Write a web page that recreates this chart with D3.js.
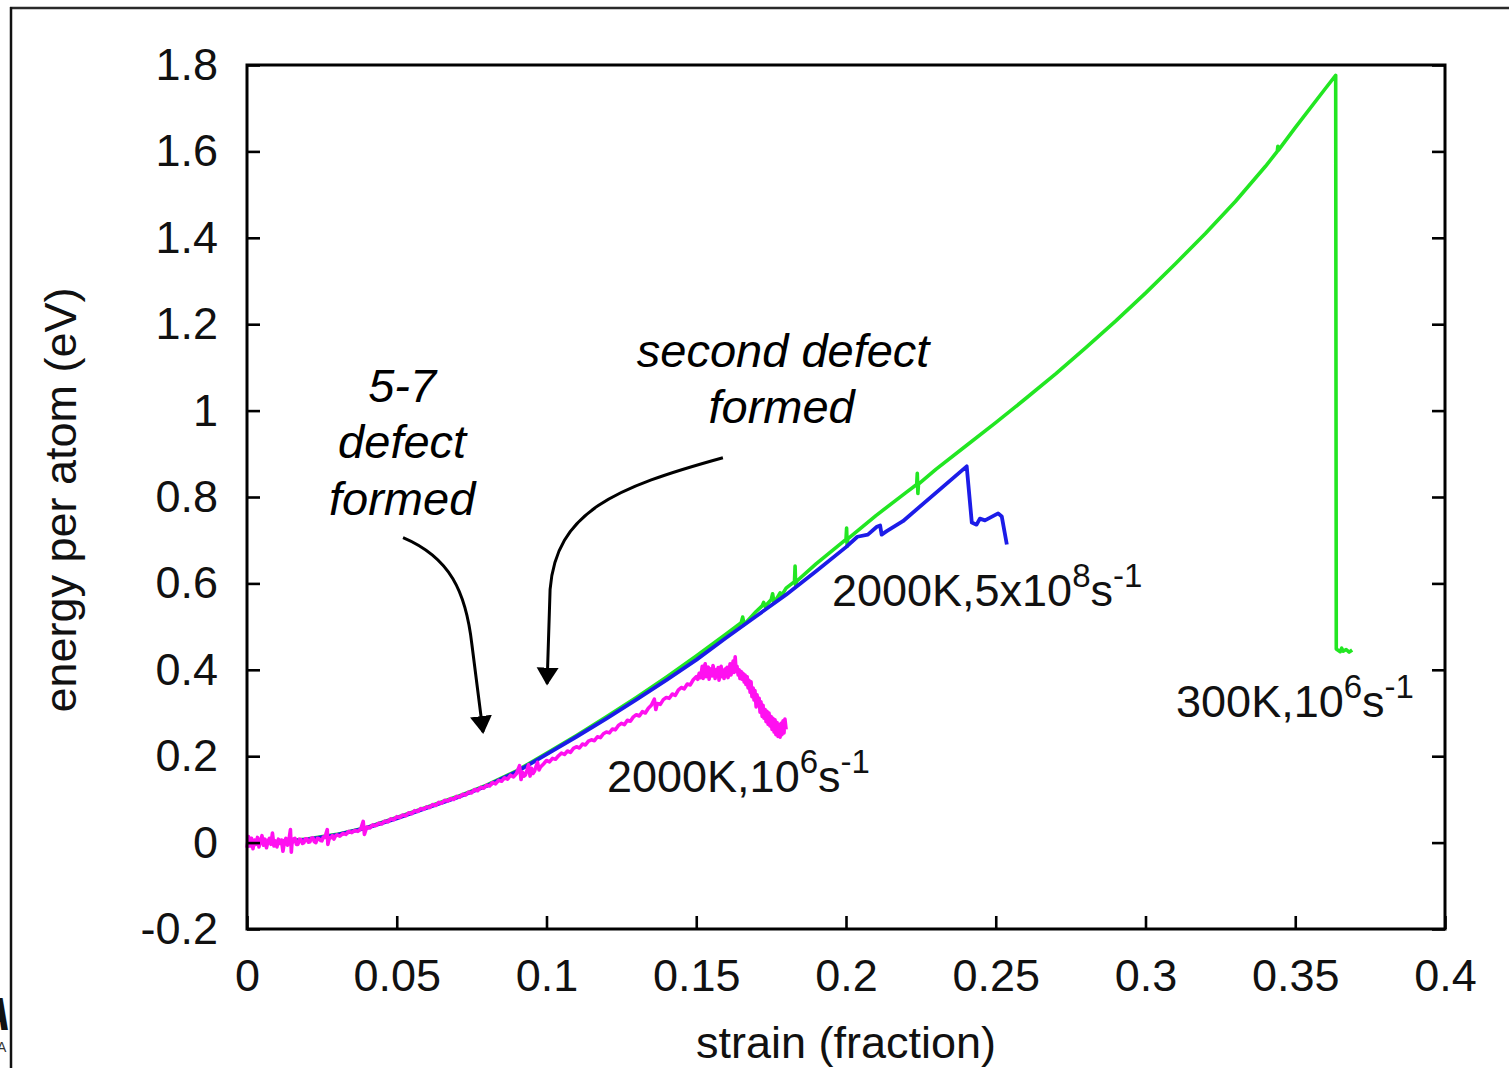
<!DOCTYPE html>
<html><head><meta charset="utf-8">
<script src="https://cdn.jsdelivr.net/npm/d3@7"></script>
<style>
body{margin:0;background:#fff}
svg{display:block;font-family:"Liberation Sans",Arial,Helvetica,sans-serif}
</style>
</head><body>
<svg id="chart" width="1509" height="1068"></svg>
<script>
// ---- data (strain, energy per atom in eV) ----
const xTickValues = [0, 0.05, 0.1, 0.15, 0.2, 0.25, 0.3, 0.35, 0.4];
const xTickLabels = ["0", "0.05", "0.1", "0.15", "0.2", "0.25", "0.3", "0.35", "0.4"];
const yTickValues = [-0.2, 0, 0.2, 0.4, 0.6, 0.8, 1.0, 1.2, 1.4, 1.6, 1.8];
const yTickLabels = ["-0.2", "0", "0.2", "0.4", "0.6", "0.8", "1", "1.2", "1.4", "1.6", "1.8"];

const series300K = [
  [0,0],[0.01,0.002],[0.02,0.008],[0.03,0.019],[0.04,0.035],[0.05,0.058],[0.06,0.082],
  [0.07,0.106],[0.08,0.133],[0.09,0.166],[0.1,0.207],[0.11,0.248],[0.12,0.291],[0.13,0.336],
  [0.14,0.383],[0.15,0.432],[0.16,0.483],[0.165,0.509],[0.1655,0.522],[0.166,0.505],
  [0.17,0.535],[0.172,0.548],[0.1725,0.556],[0.173,0.547],[0.175,0.562],[0.1755,0.576],
  [0.176,0.555],[0.178,0.578],[0.1785,0.572],[0.18,0.589],[0.1828,0.604],
  [0.183,0.640],[0.1832,0.595],[0.1835,0.605],[0.19,0.645],[0.2,0.702],[0.2002,0.728],
  [0.2004,0.686],[0.2006,0.703],[0.21,0.757],[0.22,0.810],[0.2236,0.829],[0.2238,0.855],
  [0.224,0.808],[0.2242,0.830],[0.23,0.864],[0.24,0.918],[0.25,0.972],[0.26,1.028],
  [0.27,1.085],[0.28,1.145],[0.29,1.207],[0.3,1.272],[0.31,1.34],[0.32,1.41],[0.33,1.484],
  [0.34,1.565],[0.344,1.600],[0.3442,1.612],[0.3444,1.603],[0.35,1.655],[0.36,1.745],
  [0.3635,1.776],[0.3637,0.448],[0.365,0.442],[0.3655,0.45],[0.366,0.443],[0.367,0.447],
  [0.368,0.441],[0.369,0.446]
];

const series2000Kfast = [
  [0,0],[0.01,0.001],[0.02,0.007],[0.03,0.018],[0.04,0.034],[0.05,0.056],[0.06,0.08],
  [0.07,0.104],[0.08,0.131],[0.09,0.164],[0.1,0.204],[0.11,0.245],[0.12,0.287],[0.13,0.331],
  [0.14,0.376],[0.15,0.423],[0.16,0.474],[0.17,0.524],[0.18,0.574],[0.19,0.628],[0.2,0.684],
  [0.2038,0.708],[0.2073,0.713],[0.2103,0.731],[0.2114,0.734],[0.2119,0.713],[0.2136,0.721],
  [0.219,0.744],[0.2403,0.871],[0.242,0.741],[0.2436,0.736],[0.2447,0.75],[0.2464,0.746],
  [0.2508,0.762],[0.252,0.755],[0.2537,0.690]
];

const series2000Kslow = [
  [0,-0.012],[0.0005,0.014],[0.001,-0.008],[0.0015,0.01],[0.002,-0.014],[0.0025,0.006],
  [0.003,-0.004],[0.0035,0.012],[0.004,-0.01],[0.0045,0.004],[0.005,0.016],[0.0055,-0.006],
  [0.006,0.008],[0.0065,-0.012],[0.007,0.003],[0.0075,0.01],[0.008,-0.004],[0.0085,0.022],
  [0.009,-0.008],[0.0095,0.004],[0.01,-0.01],[0.0105,0.008],[0.011,-0.002],[0.0115,0.006],
  [0.012,-0.02],[0.0125,0.002],[0.013,0.01],[0.0135,-0.006],[0.014,0.006],[0.0145,0.030],
  [0.0148,-0.022],[0.015,-0.003],[0.0155,0.008],[0.016,0.01],[0.0165,-0.004],[0.017,-0.004],
  [0.0175,0.008],[0.018,0.007],[0.0185,-0.002],[0.019,0.0],[0.0195,0.009],
  [0.02,0.009],[0.0205,0.001],[0.021,0.002],[0.0215,0.010],[0.022,0.011],[0.0225,0.002],
  [0.023,0.0],[0.0235,0.010],[0.024,0.009],[0.0245,0.005],[0.025,0.004],[0.0255,0.013],
  [0.026,0.012],[0.0268,0.030],[0.027,-0.004],[0.0275,0.011],[0.028,0.011],[0.0285,0.016],
  [0.029,0.008],[0.0295,0.015],[0.03,0.018],[0.031,0.015],[0.032,0.021],[0.033,0.019],
  [0.034,0.026],[0.035,0.023],[0.036,0.028],[0.037,0.026],[0.038,0.032],[0.0388,0.049],
  [0.0392,0.019],[0.040,0.036],[0.041,0.034],[0.042,0.041],[0.043,0.039],[0.044,0.045],
  [0.045,0.043],[0.046,0.050],[0.047,0.048],[0.048,0.055],[0.049,0.053],[0.050,0.060],
  [0.051,0.058],[0.052,0.064],[0.053,0.062],[0.054,0.069],[0.055,0.067],[0.056,0.074],
  [0.057,0.072],[0.058,0.079],[0.059,0.077],[0.060,0.083],[0.061,0.081],[0.062,0.088],
  [0.063,0.086],[0.064,0.093],[0.065,0.091],[0.066,0.098],[0.067,0.096],[0.068,0.102],
  [0.069,0.100],[0.070,0.107],[0.071,0.105],[0.072,0.112],[0.073,0.110],[0.074,0.117],
  [0.075,0.115],[0.076,0.123],[0.077,0.120],[0.078,0.128],[0.079,0.126],[0.080,0.133],
  [0.081,0.131],[0.082,0.139],[0.083,0.136],[0.084,0.144],[0.085,0.142],[0.086,0.150],
  [0.087,0.147],[0.088,0.156],[0.089,0.152],[0.090,0.160],[0.091,0.178],[0.0915,0.146],
  [0.092,0.163],[0.0925,0.154],[0.093,0.157],[0.0935,0.168],[0.094,0.180],[0.0945,0.154],
  [0.095,0.172],[0.0955,0.160],[0.096,0.165],[0.0965,0.176],[0.097,0.186],[0.0975,0.168],
  [0.098,0.175],[0.099,0.182],[0.1,0.19],[0.101,0.187],[0.102,0.195],[0.103,0.193],
  [0.104,0.201],[0.105,0.207],[0.106,0.204],[0.107,0.212],[0.108,0.209],[0.109,0.218],
  [0.11,0.222],[0.111,0.219],[0.112,0.228],[0.113,0.226],[0.114,0.235],[0.115,0.238],
  [0.116,0.236],[0.117,0.245],[0.118,0.243],[0.119,0.252],[0.12,0.256],[0.121,0.254],
  [0.122,0.263],[0.123,0.261],[0.124,0.271],[0.125,0.276],[0.126,0.273],[0.127,0.283],
  [0.128,0.281],[0.129,0.291],[0.13,0.296],[0.131,0.293],[0.132,0.303],[0.133,0.300],
  [0.134,0.311],[0.135,0.318],[0.136,0.332],[0.1365,0.308],[0.137,0.322],[0.138,0.320],
  [0.139,0.331],[0.14,0.336],[0.141,0.334],[0.142,0.344],[0.143,0.341],[0.144,0.353],
  [0.145,0.359],[0.146,0.356],[0.147,0.367],[0.148,0.365],[0.149,0.377],[0.15,0.384],
  [0.1505,0.378],[0.151,0.392],[0.1515,0.382],[0.152,0.408],[0.1523,0.380],[0.1526,0.403],
  [0.153,0.414],[0.1533,0.384],[0.1536,0.398],[0.154,0.406],[0.1543,0.378],[0.1546,0.392],
  [0.155,0.402],[0.1553,0.386],[0.1556,0.410],[0.156,0.396],[0.1563,0.380],[0.1566,0.400],
  [0.157,0.388],[0.1573,0.405],[0.1576,0.376],[0.158,0.394],[0.1583,0.408],[0.1586,0.384],
  [0.159,0.398],[0.1593,0.380],[0.1596,0.402],[0.16,0.386],[0.1603,0.406],[0.1606,0.382],
  [0.161,0.396],[0.1613,0.414],[0.1616,0.388],[0.162,0.402],[0.1623,0.420],[0.1626,0.394],
  [0.163,0.430],[0.1633,0.396],[0.1636,0.408],[0.164,0.388],[0.1643,0.400],[0.1646,0.380],
  [0.165,0.396],[0.1653,0.378],[0.1656,0.392],[0.166,0.372],[0.1663,0.388],[0.1666,0.366],
  [0.167,0.384],[0.1673,0.358],[0.1676,0.376],[0.168,0.348],[0.1683,0.372],[0.1686,0.338],
  [0.169,0.358],[0.1693,0.330],[0.1696,0.352],[0.17,0.314],[0.1703,0.342],[0.1706,0.318],
  [0.171,0.334],[0.1713,0.302],[0.1716,0.326],[0.172,0.292],[0.1723,0.318],[0.1726,0.288],
  [0.173,0.308],[0.1733,0.280],[0.1736,0.304],[0.174,0.274],[0.1743,0.300],[0.1746,0.270],
  [0.175,0.292],[0.1753,0.262],[0.1756,0.288],[0.176,0.256],[0.1763,0.284],[0.1766,0.250],
  [0.177,0.278],[0.1773,0.246],[0.1776,0.272],[0.178,0.244],[0.1783,0.276],[0.1786,0.250],
  [0.179,0.282],[0.1793,0.254],[0.1796,0.286],[0.18,0.262]
];

// ---- layout ----
const svg = d3.select("#chart");
const W = 1509, H = 1068;
const plot = {left: 247, top: 65, right: 1445, bottom: 929};
const x = d3.scaleLinear().domain([0, 0.4]).range([plot.left, plot.right]);
const y = d3.scaleLinear().domain([-0.2, 1.8]).range([plot.bottom, plot.top]);

svg.append("rect").attr("width", W).attr("height", H).attr("fill", "#fff");

// outer page frame fragments
svg.append("line").attr("x1", 10).attr("x2", W).attr("y1", 8).attr("y2", 8)
  .attr("stroke", "#2a2a2a").attr("stroke-width", 2.5);
svg.append("line").attr("x1", 11).attr("x2", 11).attr("y1", 7).attr("y2", H)
  .attr("stroke", "#111").attr("stroke-width", 2.5);
svg.append("text").attr("x", -22).attr("y", 1030).attr("font-size", 46)
  .attr("font-weight", "bold").attr("font-style", "italic").attr("fill", "#111").text("A");
svg.append("text").attr("x", -3).attr("y", 1052).attr("font-size", 14)
  .attr("fill", "#333").text("A");

// data lines
const line = d3.line().x(d => x(d[0])).y(d => y(d[1]));
const g = svg.append("g");
g.append("path").datum(series300K).attr("d", line)
  .attr("fill", "none").attr("stroke", "#22e622").attr("stroke-width", 3.6)
  .attr("stroke-linejoin", "round");
g.append("path").datum(series2000Kfast).attr("d", line)
  .attr("fill", "none").attr("stroke", "#1c1ce8").attr("stroke-width", 3.8)
  .attr("stroke-linejoin", "round");
g.append("path").datum(series2000Kslow).attr("d", line)
  .attr("fill", "none").attr("stroke", "#ff10f0").attr("stroke-width", 3.6)
  .attr("stroke-linejoin", "round");

// axes
const fontSize = 45;
const axL = d3.axisLeft(y).tickValues(yTickValues).tickFormat((d, i) => yTickLabels[i])
  .tickSizeInner(-13).tickSizeOuter(0).tickPadding(29);
const axR = d3.axisRight(y).tickValues(yTickValues).tickFormat("")
  .tickSizeInner(-13).tickSizeOuter(0);
const axB = d3.axisBottom(x).tickValues(xTickValues).tickFormat((d, i) => xTickLabels[i])
  .tickSizeInner(-13).tickSizeOuter(0).tickPadding(30);

function styleAxis(sel) {
  sel.select(".domain").remove();
  sel.selectAll(".tick line").attr("stroke", "#000").attr("stroke-width", 2.6);
  sel.selectAll(".tick text").attr("font-size", fontSize).attr("fill", "#111")
    .attr("font-family", "'Liberation Sans', Arial, Helvetica, sans-serif");
}
svg.append("g").attr("transform", `translate(${plot.left},0)`).call(axL).call(styleAxis);
svg.append("g").attr("transform", `translate(${plot.right},0)`).call(axR).call(styleAxis);
svg.append("g").attr("transform", `translate(0,${plot.bottom})`).call(axB).call(styleAxis);

// plot border
svg.append("rect").attr("x", plot.left).attr("y", plot.top)
  .attr("width", plot.right - plot.left).attr("height", plot.bottom - plot.top)
  .attr("fill", "none").attr("stroke", "#000").attr("stroke-width", 3);

// axis titles
svg.append("text").attr("x", (plot.left + plot.right) / 2).attr("y", 1058)
  .attr("text-anchor", "middle").attr("font-size", fontSize).attr("fill", "#111")
  .text("strain (fraction)");
svg.append("text").attr("transform", "translate(76,500) rotate(-90)")
  .attr("text-anchor", "middle").attr("font-size", fontSize).attr("fill", "#111")
  .text("energy per atom (eV)");

// series labels with superscripts
function supLabel(sx, sy, parts) {
  const t = svg.append("text").attr("x", x(sx)).attr("y", y(sy))
    .attr("font-size", fontSize).attr("fill", "#111");
  parts.forEach(p => {
    if (p.sup) {
      t.append("tspan").attr("font-size", 33).attr("dy", -19).text(p.t);
    } else {
      t.append("tspan").attr("dy", p.after ? 19 : 0).text(p.t);
    }
  });
}
supLabel(0.1953, 0.547, [{t: "2000K,5x10"}, {t: "8", sup: true}, {t: "s", after: true}, {t: "-1", sup: true}]);
supLabel(0.3102, 0.290, [{t: "300K,10"}, {t: "6", sup: true}, {t: "s", after: true}, {t: "-1", sup: true}]);
supLabel(0.1202, 0.116, [{t: "2000K,10"}, {t: "6", sup: true}, {t: "s", after: true}, {t: "-1", sup: true}]);

// annotations
const annFont = 47;
function annText(sx, sy, txt) {
  svg.append("text").attr("x", x(sx)).attr("y", y(sy)).attr("text-anchor", "middle")
    .attr("font-size", annFont).attr("font-style", "italic").attr("fill", "#000").text(txt);
}
annText(0.0518, 1.019, "5-7");
annText(0.0518, 0.891, "defect");
annText(0.0518, 0.759, "formed");
annText(0.179, 1.102, "second defect");
annText(0.1785, 0.972, "formed");

const defs = svg.append("defs");
defs.append("marker").attr("id", "ah").attr("markerUnits", "userSpaceOnUse")
  .attr("viewBox", "0 -12 20 24").attr("markerWidth", 20).attr("markerHeight", 24)
  .attr("refX", 16).attr("refY", 0).attr("orient", "auto")
  .append("path").attr("d", "M0,-11 L18,0 L0,11 Z").attr("fill", "#000");

function arrow(pts) {
  const P = pts.map(p => [x(p[0]), y(p[1])]);
  const d = `M${P[0]} C${P[1]} ${P[2]} ${P[3]} L${P[4]}`;
  svg.append("path").attr("d", d).attr("fill", "none").attr("stroke", "#000")
    .attr("stroke-width", 3).attr("marker-end", "url(#ah)");
}
arrow([[0.0521, 0.706], [0.0678, 0.660], [0.0731, 0.581], [0.0751, 0.458], [0.0788, 0.256]]);
arrow([[0.1589, 0.891], [0.1229, 0.822], [0.1032, 0.766], [0.1012, 0.586], [0.1002, 0.368]]);
</script>
</body></html>
